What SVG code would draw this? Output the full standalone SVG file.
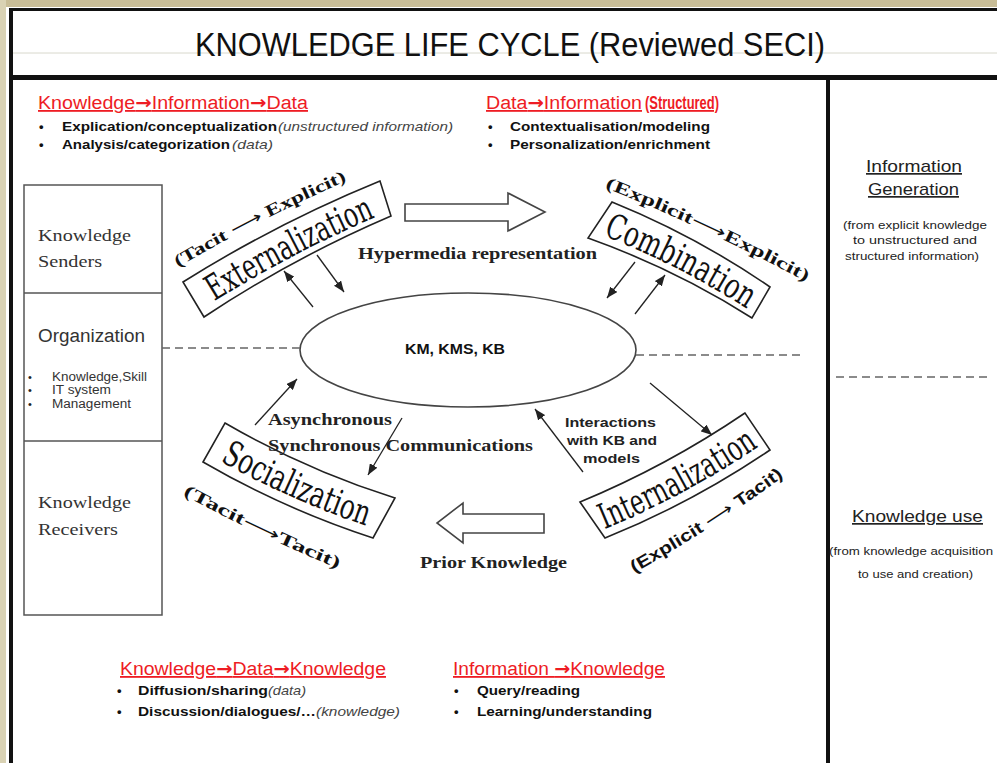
<svg xmlns="http://www.w3.org/2000/svg" width="997" height="763" viewBox="0 0 997 763">
  <defs>
    <style>
      .sans{font-family:"Liberation Sans",Arial,sans-serif}
      .serif{font-family:"Liberation Serif","Times New Roman",serif}
      .hdr{font-family:"Liberation Sans",Arial,sans-serif;font-size:18px;fill:#ee1c24;text-decoration:underline}
      .ar{font-family:"DejaVu Sans",sans-serif;font-weight:bold}
      .b{font-family:"Liberation Sans",Arial,sans-serif;font-size:13px;font-weight:bold;fill:#111}
      .it{font-family:"Liberation Sans",Arial,sans-serif;font-size:13px;font-style:italic;fill:#444}
      .box{fill:none;stroke:#555;stroke-width:1.5}
      .banner{fill:#fff;stroke:#222;stroke-width:1.6}
      .btxt{font-family:"DejaVu Serif","Liberation Serif",serif;font-size:35px;fill:#111}
      .lbl{font-family:"Liberation Serif","Times New Roman",serif;font-size:17px;font-weight:bold;fill:#111}
      .lbls{font-family:"Liberation Sans",Arial,sans-serif;font-size:17px;font-weight:bold;fill:#111}
      .la{font-family:"DejaVu Sans",sans-serif;font-weight:normal}
      .arr{stroke:#222;stroke-width:1.3;fill:none;marker-end:url(#ah)}
      .dash{stroke:#666;stroke-width:1.6;stroke-dasharray:8 5;fill:none}
      .hollow{fill:#fff;stroke:#444;stroke-width:1.6}
      .st{font-family:"Liberation Serif","Times New Roman",serif;font-size:16px;font-weight:bold;fill:#222}
      .lt{font-family:"Liberation Serif","Times New Roman",serif;font-size:17px;fill:#333}
      .rc{font-family:"Liberation Sans",Arial,sans-serif;fill:#222}
    </style>
    <marker id="ah" viewBox="0 0 10 8" refX="10" refY="4" markerWidth="11" markerHeight="9" orient="auto" markerUnits="userSpaceOnUse">
      <path d="M0,0 L10,4 L0,8 Z" fill="#222"/>
    </marker>
    <!-- baselines for the curved banner texts -->
    <path id="pExt" d="M199,311 Q291,252 392,210"/>
    <path id="pComb" d="M594,232 Q679,264 755,314"/>
    <path id="pSoc" d="M208.5,454.5 Q289.4,501 378.5,530"/>
    <path id="pInt" d="M598.7,531.7 Q686,496 763.7,443.2"/>
    <!-- baselines for the transition labels -->
    <path id="lExt" d="M160.7,277.4 Q259.4,217.9 365.4,172.6"/>
    <path id="lComb" d="M591.7,182.4 Q708.4,228.2 818.3,288.4"/>
    <path id="lSoc" d="M161.8,482.6 Q257.6,537.2 360.2,577.4"/>
    <path id="lInt" d="M615.9,583.2 Q712.6,530.2 800.7,463.8"/>
  </defs>

  <!-- page frame -->
  <g id="frame">
    <rect x="0" y="0" width="997" height="763" fill="#fff"/>
    <rect x="0" y="0" width="997" height="7" fill="#c8bd97"/>
    <rect x="0" y="0" width="6" height="763" fill="#d9d2b4"/>
    <rect x="9" y="8" width="988" height="3" fill="#111"/>
    <rect x="9" y="8" width="4" height="755" fill="#111"/>
    <line x1="13" y1="53" x2="997" y2="53" stroke="#d8d8cc" stroke-width="1"/>
    <rect x="9" y="75" width="988" height="5" fill="#111"/>
    <rect x="826" y="80" width="4" height="683" fill="#111"/>
  </g>

  <g id="title">
    <text class="sans" x="195" y="56" font-size="33" fill="#111" textLength="630" lengthAdjust="spacingAndGlyphs">KNOWLEDGE LIFE CYCLE (Reviewed SECI)</text>
  </g>

  <!-- top left block -->
  <g id="k-i-d">
    <text class="hdr" x="38" y="109" textLength="270" lengthAdjust="spacingAndGlyphs">Knowledge<tspan class="ar">→</tspan>Information<tspan class="ar">→</tspan>Data</text>
    <text class="b" x="39" y="131">•</text>
    <text class="b" x="62" y="131" textLength="215" lengthAdjust="spacingAndGlyphs">Explication/conceptualization</text>
    <text class="it" x="278" y="131" textLength="175" lengthAdjust="spacingAndGlyphs">(unstructured information)</text>
    <text class="b" x="39" y="149">•</text>
    <text class="b" x="62" y="149" textLength="168" lengthAdjust="spacingAndGlyphs">Analysis/categorization</text>
    <text class="it" x="232" y="149" textLength="41" lengthAdjust="spacingAndGlyphs">(data)</text>
  </g>

  <!-- top right block -->
  <g id="d-i">
    <text class="hdr" x="486" y="109" textLength="156" lengthAdjust="spacingAndGlyphs">Data<tspan class="ar">→</tspan>Information</text>
    <text class="hdr" x="645" y="109" font-size="11" font-weight="bold" textLength="74" lengthAdjust="spacingAndGlyphs">(Structured)</text>
    <text class="b" x="488" y="131">•</text>
    <text class="b" x="510" y="131" textLength="200" lengthAdjust="spacingAndGlyphs">Contextualisation/modeling</text>
    <text class="b" x="488" y="149">•</text>
    <text class="b" x="510" y="149" textLength="200" lengthAdjust="spacingAndGlyphs">Personalization/enrichment</text>
  </g>

  <!-- right column -->
  <g id="info-generation">
    <text class="rc" x="866" y="172" font-size="17" text-decoration="underline" textLength="96" lengthAdjust="spacingAndGlyphs">Information</text>
    <text class="rc" x="868" y="195" font-size="17" text-decoration="underline" textLength="91" lengthAdjust="spacingAndGlyphs">Generation</text>
    <text class="rc" x="843" y="229" font-size="10.5" textLength="144" lengthAdjust="spacingAndGlyphs">(from explicit knowledge</text>
    <text class="rc" x="853" y="244" font-size="10.5" textLength="124" lengthAdjust="spacingAndGlyphs">to unstructured and</text>
    <text class="rc" x="845" y="260" font-size="10.5" textLength="134" lengthAdjust="spacingAndGlyphs">structured information)</text>
  </g>
  <g id="knowledge-use">
    <text class="rc" x="852" y="522" font-size="17" text-decoration="underline" textLength="131" lengthAdjust="spacingAndGlyphs">Knowledge use</text>
    <text class="rc" x="829" y="555" font-size="11" textLength="164" lengthAdjust="spacingAndGlyphs">(from knowledge acquisition</text>
    <text class="rc" x="858" y="578" font-size="11" textLength="115" lengthAdjust="spacingAndGlyphs">to use and creation)</text>
  </g>

  <!-- left panel -->
  <g id="actors">
    <rect class="box" x="24" y="185" width="138" height="430"/>
    <line class="box" x1="24" y1="293" x2="162" y2="293"/>
    <line class="box" x1="24" y1="441" x2="162" y2="441"/>
    <text class="lt" x="38" y="241" textLength="93" lengthAdjust="spacingAndGlyphs">Knowledge</text>
    <text class="lt" x="38" y="267" textLength="64" lengthAdjust="spacingAndGlyphs">Senders</text>
    <text class="sans" x="38" y="342" font-size="18" fill="#333" textLength="107" lengthAdjust="spacingAndGlyphs">Organization</text>
    <text class="sans" x="28" y="381" font-size="11" fill="#222">•</text>
    <text class="sans" x="52" y="381" font-size="12" fill="#333" textLength="95" lengthAdjust="spacingAndGlyphs">Knowledge,Skill</text>
    <text class="sans" x="28" y="394" font-size="11" fill="#222">•</text>
    <text class="sans" x="52" y="394" font-size="12" fill="#333" textLength="59" lengthAdjust="spacingAndGlyphs">IT system</text>
    <text class="sans" x="28" y="408" font-size="11" fill="#222">•</text>
    <text class="sans" x="52" y="408" font-size="12" fill="#333" textLength="79" lengthAdjust="spacingAndGlyphs">Management</text>
    <text class="lt" x="38" y="508" textLength="93" lengthAdjust="spacingAndGlyphs">Knowledge</text>
    <text class="lt" x="38" y="535" textLength="80" lengthAdjust="spacingAndGlyphs">Receivers</text>
  </g>

  <!-- central knowledge base -->
  <g id="kb">
    <ellipse cx="468" cy="350" rx="168" ry="57" fill="#fff" stroke="#444" stroke-width="1.6"/>
    <text class="sans" x="405" y="354" font-size="14" font-weight="bold" fill="#111" textLength="100" lengthAdjust="spacingAndGlyphs">KM, KMS, KB</text>
  </g>

  <!-- SECI banners -->
  <g id="externalization">
    <path class="banner" d="M183,282 Q277,223 380,181 L391,216 Q293,258 204,317 Z"/>
    <text class="btxt"><textPath href="#pExt" startOffset="50%" text-anchor="middle" textLength="182" lengthAdjust="spacingAndGlyphs">Externalization</textPath></text>
    <text class="lbl"><textPath href="#lExt" startOffset="50%" text-anchor="middle" textLength="190" lengthAdjust="spacingAndGlyphs">(Tacit <tspan class="la">⟶</tspan> Explicit)</textPath></text>
  </g>
  <g id="combination">
    <path class="banner" d="M612,202 Q696,236 770,287 L752,318 Q675,269 588,238 Z"/>
    <text class="btxt"><textPath href="#pComb" startOffset="50%" text-anchor="middle" textLength="162" lengthAdjust="spacingAndGlyphs">Combination</textPath></text>
    <text class="lbl"><textPath href="#lComb" startOffset="50%" text-anchor="middle" textLength="222" lengthAdjust="spacingAndGlyphs">(Explicit<tspan class="la">⟶</tspan>Explicit)</textPath></text>
  </g>
  <g id="socialization">
    <path class="banner" d="M225,423 Q306,470 395,498 L373,538 Q284,509 203,462 Z"/>
    <text class="btxt"><textPath href="#pSoc" startOffset="50%" text-anchor="middle" textLength="160" lengthAdjust="spacingAndGlyphs">Socialization</textPath></text>
    <text class="lbl"><textPath href="#lSoc" startOffset="50%" text-anchor="middle" textLength="172" lengthAdjust="spacingAndGlyphs">(Tacit<tspan class="la">⟶</tspan>Tacit)</textPath></text>
  </g>
  <g id="internalization">
    <path class="banner" d="M580,502 Q667,466 745,413 L770,450 Q692,503 605,538 Z"/>
    <text class="btxt"><textPath href="#pInt" startOffset="50%" text-anchor="middle" textLength="175" lengthAdjust="spacingAndGlyphs">Internalization</textPath></text>
    <text class="lbls"><textPath href="#lInt" startOffset="50%" text-anchor="middle" textLength="178" lengthAdjust="spacingAndGlyphs">(Explicit <tspan class="la">⟶</tspan> Tacit)</textPath></text>
  </g>

  <!-- flow captions -->
  <g id="captions">
    <text class="st" x="358" y="259" textLength="239" lengthAdjust="spacingAndGlyphs">Hypermedia representation</text>
    <text class="st" x="268" y="425" textLength="124" lengthAdjust="spacingAndGlyphs">Asynchronous</text>
    <text class="st" x="268" y="451" textLength="265" lengthAdjust="spacingAndGlyphs">Synchronous Communications</text>
    <text class="st" x="420" y="568" textLength="147" lengthAdjust="spacingAndGlyphs">Prior Knowledge</text>
    <text class="sans" x="565" y="427" font-size="13.5" font-weight="bold" fill="#222" textLength="91" lengthAdjust="spacingAndGlyphs">Interactions</text>
    <text class="sans" x="567" y="445" font-size="13.5" font-weight="bold" fill="#222" textLength="90" lengthAdjust="spacingAndGlyphs">with KB and</text>
    <text class="sans" x="583" y="463" font-size="13.5" font-weight="bold" fill="#222" textLength="57" lengthAdjust="spacingAndGlyphs">models</text>
  </g>

  <!-- bottom blocks -->
  <g id="k-d-k">
    <text class="hdr" x="120" y="675" textLength="266" lengthAdjust="spacingAndGlyphs">Knowledge<tspan class="ar">→</tspan>Data<tspan class="ar">→</tspan>Knowledge</text>
    <text class="b" x="117" y="695">•</text>
    <text class="b" x="138" y="695" textLength="130" lengthAdjust="spacingAndGlyphs">Diffusion/sharing</text>
    <text class="it" x="268" y="695" textLength="38" lengthAdjust="spacingAndGlyphs">(data)</text>
    <text class="b" x="117" y="716">•</text>
    <text class="b" x="138" y="716" textLength="178" lengthAdjust="spacingAndGlyphs">Discussion/dialogues/…</text>
    <text class="it" x="316" y="716" textLength="84" lengthAdjust="spacingAndGlyphs">(knowledge)</text>
  </g>
  <g id="i-k">
    <text class="hdr" x="453" y="675" textLength="212" lengthAdjust="spacingAndGlyphs">Information <tspan class="ar">→</tspan>Knowledge</text>
    <text class="b" x="454" y="695">•</text>
    <text class="b" x="477" y="695" textLength="103" lengthAdjust="spacingAndGlyphs">Query/reading</text>
    <text class="b" x="454" y="716">•</text>
    <text class="b" x="477" y="716" textLength="175" lengthAdjust="spacingAndGlyphs">Learning/understanding</text>
  </g>

  <!-- connectors -->
  <g id="connectors">
    <line class="dash" x1="162" y1="348" x2="300" y2="348"/>
    <line class="dash" x1="636" y1="355" x2="805" y2="355"/>
    <line class="dash" x1="836" y1="377" x2="990" y2="377" stroke-width="1.3"/>
    <path class="hollow" d="M405,204 L508,204 L508,193 L545,212 L508,231 L508,221 L405,221 Z"/>
    <path class="hollow" d="M544,514 L463,514 L463,503 L437,523 L463,543 L463,533 L544,533 Z"/>
    <line class="arr" x1="313" y1="307" x2="284" y2="271"/>
    <line class="arr" x1="317" y1="255" x2="344" y2="292"/>
    <line class="arr" x1="635" y1="262" x2="607" y2="298"/>
    <line class="arr" x1="635" y1="314" x2="665" y2="275"/>
    <line class="arr" x1="650" y1="383" x2="712" y2="435"/>
    <line class="arr" x1="583" y1="472" x2="535" y2="409"/>
    <line class="arr" x1="402" y1="418" x2="368" y2="475"/>
    <line class="arr" x1="255" y1="425" x2="297" y2="379"/>
  </g>
</svg>
